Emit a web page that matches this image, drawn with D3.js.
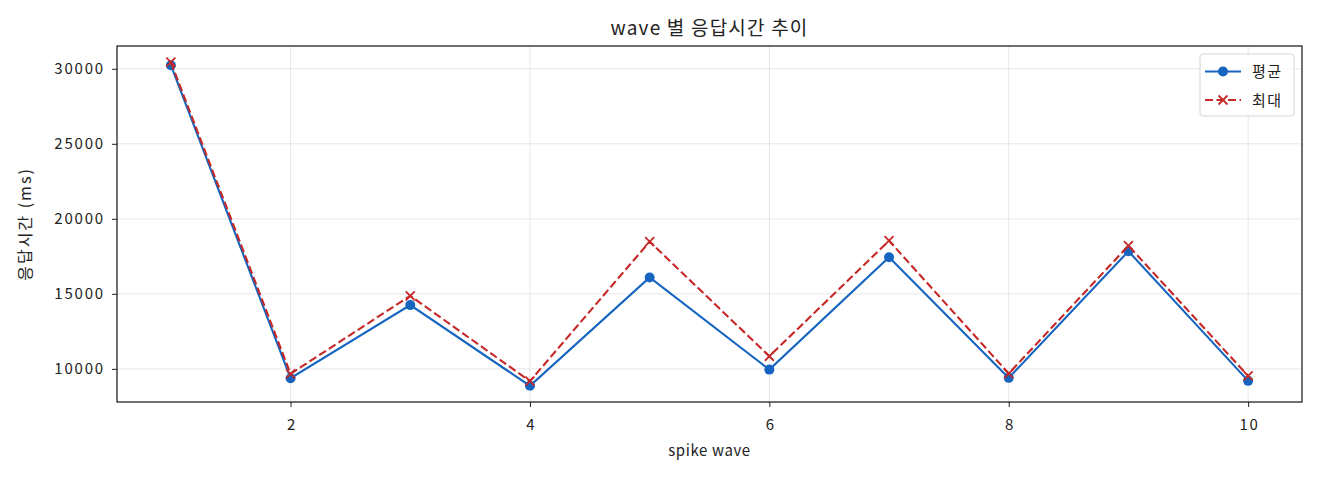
<!DOCTYPE html>
<html>
<head>
<meta charset="utf-8">
<script src="https://cdn.jsdelivr.net/npm/d3@7"></script>
<style>
  body { margin: 0; background: #fff; }
  svg text { font-family: "Noto Sans CJK KR", "Noto Sans", sans-serif; fill: #222; }
</style>
</head>
<body>
<svg id="chart" width="1320" height="480"></svg>
<script>
// wave 번호와 응답시간 (ms)
var waves = [1, 2, 3, 4, 5, 6, 7, 8, 9, 10];
var avgMs = [30240, 9380, 14250, 8870, 16090, 9950, 17440, 9400, 17840, 9200];
var maxMs = [30440, 9670, 14870, 9180, 18480, 10840, 18540, 9690, 18210, 9530];
var xTicks = [2, 4, 6, 8, 10];
var yTicks = [10000, 15000, 20000, 25000, 30000];
var seriesNames = ["평균", "최대"];

var svg = d3.select("#chart");
var m = {left: 117, right: 18, top: 46, bottom: 78};
var W = 1320, H = 480;
var pw = W - m.left - m.right, ph = H - m.top - m.bottom;

// matplotlib 식 5% 여백
var xmin = d3.min(waves), xmax = d3.max(waves), xpad = (xmax - xmin) * 0.05;
var allY = avgMs.concat(maxMs);
var ymin = d3.min(allY), ymax = d3.max(allY), ypad = (ymax - ymin) * 0.05;

var x = d3.scaleLinear().domain([xmin - xpad, xmax + xpad]).range([0, pw]);
var y = d3.scaleLinear().domain([ymin - ypad, ymax + ypad]).range([ph, 0]);

var g = svg.append("g").attr("transform", "translate(" + m.left + "," + m.top + ")");

// grid
g.append("g").selectAll("line").data(xTicks).enter().append("line")
  .attr("x1", function(d){ return x(d); }).attr("x2", function(d){ return x(d); })
  .attr("y1", 0).attr("y2", ph)
  .attr("stroke", "#b0b0b0").attr("stroke-opacity", 0.3).attr("stroke-width", 1);
g.append("g").selectAll("line").data(yTicks).enter().append("line")
  .attr("y1", function(d){ return y(d); }).attr("y2", function(d){ return y(d); })
  .attr("x1", 0).attr("x2", pw)
  .attr("stroke", "#b0b0b0").attr("stroke-opacity", 0.3).attr("stroke-width", 1);

// axes
var xAxis = g.append("g").attr("transform", "translate(0," + ph + ")")
  .call(d3.axisBottom(x).tickValues(xTicks).tickSize(5).tickPadding(12).tickFormat(d3.format("d")));
var yAxis = g.append("g")
  .call(d3.axisLeft(y).tickValues(yTicks).tickSize(5).tickPadding(7).tickFormat(d3.format("d")));
[xAxis, yAxis].forEach(function(a){
  a.select(".domain").remove();
  a.selectAll("text").attr("font-size", 15).attr("letter-spacing", "1.8px")
    .style("font-family", "\"Noto Sans CJK KR\", sans-serif").attr("fill", "#222");
  a.selectAll("line").attr("stroke", "#222");
});
xAxis.selectAll("text").attr("dx", "0.9px");

// frame
g.append("rect").attr("width", pw).attr("height", ph)
  .attr("fill", "none").attr("stroke", "#111").attr("stroke-width", 1.2);

var line = d3.line().x(function(d, i){ return x(waves[i]); }).y(function(d){ return y(d); });

var blue = "#1565c0", red = "#c62828";

// 평균
g.append("path").datum(avgMs).attr("d", line)
  .attr("fill", "none").attr("stroke", blue).attr("stroke-width", 2.1);
g.append("g").selectAll("circle").data(avgMs).enter().append("circle")
  .attr("cx", function(d, i){ return x(waves[i]); })
  .attr("cy", function(d){ return y(d); })
  .attr("r", 5).attr("fill", blue);

// 최대
g.append("path").datum(maxMs).attr("d", line)
  .attr("fill", "none").attr("stroke", red).attr("stroke-width", 2.1)
  .attr("stroke-dasharray", "8,3.5");
var xs = 4.5;
g.append("g").selectAll("path").data(maxMs).enter().append("path")
  .attr("d", function(d, i){
    var cx = x(waves[i]), cy = y(d);
    return "M" + (cx - xs) + "," + (cy - xs) + "L" + (cx + xs) + "," + (cy + xs) +
           "M" + (cx - xs) + "," + (cy + xs) + "L" + (cx + xs) + "," + (cy - xs);
  })
  .attr("stroke", red).attr("stroke-width", 1.8).attr("fill", "none");

// title, labels
svg.append("text").attr("x", m.left + pw / 2).attr("y", 35)
  .attr("text-anchor", "middle").attr("font-size", 19).attr("letter-spacing", "1.2px")
  .text("wave 별 응답시간 추이");
svg.append("text").attr("x", m.left + pw / 2).attr("y", 456)
  .attr("text-anchor", "middle").attr("font-size", 15).attr("letter-spacing", "0.6px")
  .text("spike wave");
svg.append("text").attr("transform", "translate(31," + (m.top + ph / 2) + ") rotate(-90)")
  .attr("text-anchor", "middle").attr("font-size", 16).attr("letter-spacing", "2px")
  .text("응답시간 (ms)");

// legend
var lg = svg.append("g").attr("transform", "translate(1200,54)");
lg.append("rect").attr("width", 94).attr("height", 62).attr("rx", 3)
  .attr("fill", "#fff").attr("fill-opacity", 0.8).attr("stroke", "#d6d6d6");
seriesNames.forEach(function(name, i){
  var ly = 17.5 + i * 28.5;
  var col = i === 0 ? blue : red;
  lg.append("line").attr("x1", 5).attr("x2", 41).attr("y1", ly).attr("y2", ly)
    .attr("stroke", col).attr("stroke-width", 2.1)
    .attr("stroke-dasharray", i === 0 ? null : "8,3.5");
  if (i === 0) {
    lg.append("circle").attr("cx", 23).attr("cy", ly).attr("r", 5).attr("fill", col);
  } else {
    lg.append("path").attr("d", "M" + (23 - xs) + "," + (ly - xs) + "L" + (23 + xs) + "," + (ly + xs) +
      "M" + (23 - xs) + "," + (ly + xs) + "L" + (23 + xs) + "," + (ly - xs))
      .attr("stroke", col).attr("stroke-width", 1.8);
  }
  lg.append("text").attr("x", 52).attr("y", ly + 5.5).attr("font-size", 15)
    .attr("letter-spacing", "1.5px").text(name);
});
</script>
</body>
</html>
